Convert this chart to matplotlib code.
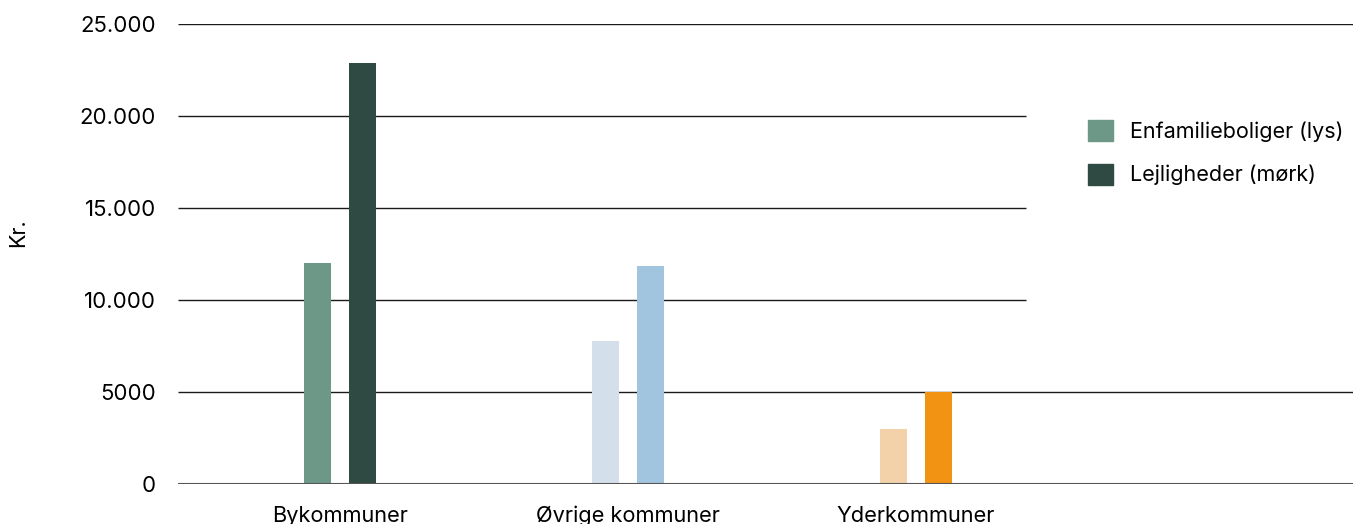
import numpy as np
import matplotlib
matplotlib.use("Agg")
import matplotlib.pyplot as plt
from matplotlib.patches import Patch

plt.rcParams['font.family'] = ['Inter', 'DejaVu Sans']

# data
categories = ["Bykommuner", "Øvrige kommuner", "Yderkommuner"]
lys = [12000, 7750, 3000]
moerk = [22900, 11850, 5000]
lys_colors = ["#6d9888", "#d3e0eb", "#f3d2aa"]
moerk_colors = ["#2e4a42", "#a2c5df", "#f39313"]
legend_labels = ["Enfamilieboliger (lys)", "Lejligheder (mørk)"]
yticks = [0, 5000, 10000, 15000, 20000, 25000]
ytick_labels = ["0", "5000", "10.000", "15.000", "20.000", "25.000"]

W, H = 1353, 524
fig = plt.figure(figsize=(W / 100, H / 100), dpi=100)
ax = fig.add_axes([178 / W, (H - 484) / H, (W - 178) / W, 460 / H])

x = np.arange(len(categories))
bw = 0.094
off = 0.078
ax.bar(x - off, lys, width=bw, color=lys_colors, zorder=3)
ax.bar(x + off, moerk, width=bw, color=moerk_colors, zorder=3)

xmin, xmax = -0.5625, 3.517
ax.set_xlim(xmin, xmax)
ax.set_ylim(0, 25000)

# grid lines; the ones behind the legend stop short
x_cut = (1026 - 340) / 288
for v in yticks:
    end = x_cut if v in (10000, 15000, 20000) else xmax
    if v == 0:
        ax.hlines(v, xmin, end, color="#555555", lw=1.5, zorder=4)
    else:
        ax.hlines(v, xmin, end, color="#1a1a1a", lw=1.0, zorder=2)

for s in ax.spines.values():
    s.set_visible(False)

ax.set_yticks(yticks)
ax.set_yticklabels(ytick_labels)
ax.set_xticks(x)
ax.set_xticklabels(categories)
ax.tick_params(axis="y", length=0, pad=16, labelsize=16)
ax.tick_params(axis="x", length=0, pad=15.5, labelsize=15.7)

fig.text(18 / W, 1 - 233 / H, "Kr.", rotation=90, ha="center", va="center", fontsize=15.5)

handles = [Patch(color=lys_colors[0]), Patch(color=moerk_colors[0])]
fig.legend(handles, legend_labels, loc="upper left",
           bbox_to_anchor=(1088 / W, 1 - 120 / H), frameon=False,
           fontsize=15.5, handlelength=1.15, handleheight=1.15,
           handletextpad=0.8, labelspacing=1.0, borderpad=0, borderaxespad=0)

fig.savefig("out.png", dpi=100)
